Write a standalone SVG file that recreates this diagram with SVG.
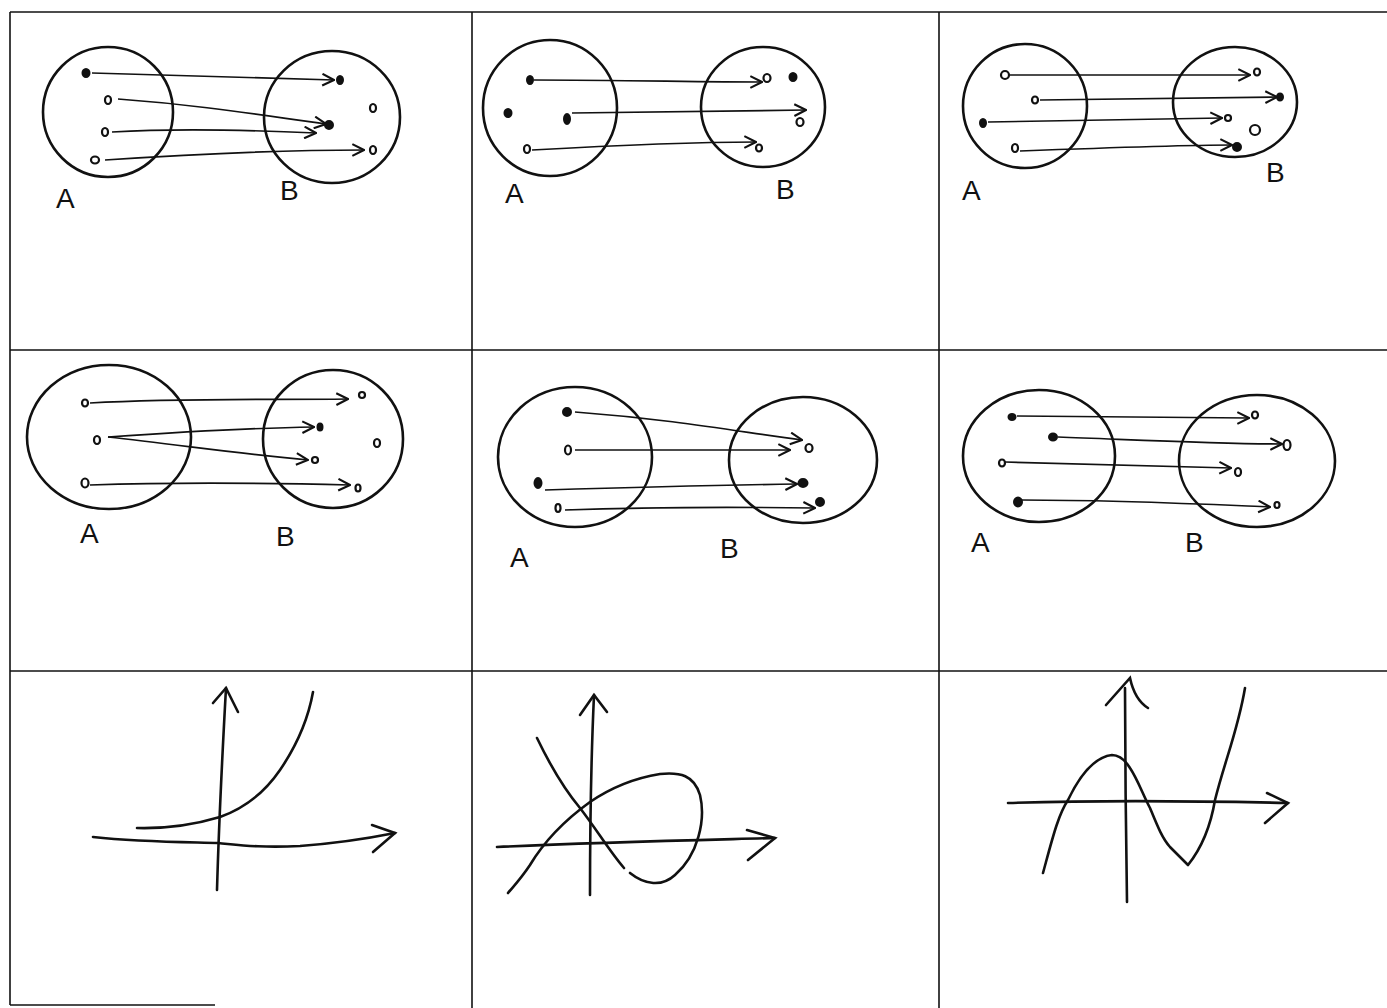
<svg xmlns="http://www.w3.org/2000/svg" width="1387" height="1008" viewBox="0 0 1387 1008">
<style>
.grid{stroke:#111;stroke-width:1.6;fill:none}
.set{fill:none;stroke:#111;stroke-width:2.6}
.dot{fill:#fff;stroke:#111;stroke-width:2.2}
.fdot{fill:#111;stroke:#111;stroke-width:2}
.map{fill:none;stroke:#111;stroke-width:1.7;marker-end:url(#open)}
.axis{fill:none;stroke:#111;stroke-width:2.6;stroke-linecap:round}
.curve{fill:none;stroke:#111;stroke-width:2.6;stroke-linecap:round;stroke-linejoin:round}
.lbl{font-family:"Liberation Sans",Arial,sans-serif;font-size:28px;fill:#111}
</style>
<defs>
<marker id="open" viewBox="0 0 12 12" refX="11" refY="6" markerWidth="14" markerHeight="14" markerUnits="userSpaceOnUse" orient="auto">
<path d="M1,1 L11,6 L1,11" fill="none" stroke="#111" stroke-width="1.8"/>
</marker>
</defs>
<rect width="1387" height="1008" fill="#fff"/>
<g id="grid" class="grid">
<line x1="10" y1="12" x2="1387" y2="12"/>
<line x1="10" y1="350" x2="1387" y2="350"/>
<line x1="10" y1="671" x2="1387" y2="671"/>
<line x1="10" y1="1005" x2="215" y2="1005"/>
<line x1="10" y1="12" x2="10" y2="1005"/>
<line x1="472" y1="12" x2="472" y2="1008"/>
<line x1="939" y1="12" x2="939" y2="1008"/>
</g>

<g id="cell1">
<g id="c1-A"><ellipse class="set" cx="108" cy="112" rx="65" ry="65"/>
<ellipse class="fdot" cx="86" cy="73" rx="3.5" ry="4"/><ellipse class="dot" cx="108" cy="100" rx="3" ry="4"/><ellipse class="dot" cx="105" cy="132" rx="3" ry="4"/><ellipse class="dot" cx="95" cy="160" rx="4" ry="3.5"/>
<text class="lbl" x="56" y="208">A</text></g>
<g id="c1-B"><ellipse class="set" cx="332" cy="117" rx="68" ry="66"/>
<ellipse class="fdot" cx="340" cy="80" rx="3" ry="4"/><ellipse class="dot" cx="373" cy="108" rx="3" ry="4"/><ellipse class="fdot" cx="329" cy="125" rx="4" ry="4"/><ellipse class="dot" cx="373" cy="150" rx="3" ry="4"/>
<text class="lbl" x="280" y="200">B</text></g>
<g id="c1-edges">
<path class="map" d="M92,73 L334,80"/>
<path class="map" d="M118,99 C200,105 260,115 326,124"/>
<path class="map" d="M112,132 C180,128 250,130 316,133"/>
<path class="map" d="M105,160 C180,155 280,150 364,150"/>
</g>
</g>

<g id="cell2">
<g id="c2-A"><ellipse class="set" cx="550" cy="108" rx="67" ry="68"/>
<ellipse class="fdot" cx="530" cy="80" rx="3" ry="4"/><ellipse class="fdot" cx="508" cy="113" rx="3.5" ry="4"/><ellipse class="fdot" cx="567" cy="119" rx="3" ry="5"/><ellipse class="dot" cx="527" cy="149" rx="3" ry="4"/>
<text class="lbl" x="505" y="203">A</text></g>
<g id="c2-B"><ellipse class="set" cx="763" cy="107" rx="62" ry="60"/>
<ellipse class="dot" cx="767" cy="78" rx="3.5" ry="4"/><ellipse class="fdot" cx="793" cy="77" rx="3.5" ry="4"/><ellipse class="dot" cx="800" cy="122" rx="3.5" ry="4"/><ellipse class="dot" cx="759" cy="148" rx="3" ry="3.5"/>
<text class="lbl" x="776" y="199">B</text></g>
<g id="c2-edges">
<path class="map" d="M534,80 C620,80 700,82 762,82"/>
<path class="map" d="M572,113 L806,110"/>
<path class="map" d="M532,150 C620,145 700,142 756,142"/>
</g>
</g>

<g id="cell3">
<g id="c3-A"><ellipse class="set" cx="1025" cy="106" rx="62" ry="62"/>
<ellipse class="dot" cx="1005" cy="75" rx="4" ry="4"/><ellipse class="dot" cx="1035" cy="100" rx="3" ry="3.5"/><ellipse class="fdot" cx="983" cy="123" rx="3" ry="4"/><ellipse class="dot" cx="1015" cy="148" rx="3" ry="4"/>
<text class="lbl" x="962" y="200">A</text></g>
<g id="c3-B"><ellipse class="set" cx="1235" cy="102" rx="62" ry="55"/>
<ellipse class="dot" cx="1257" cy="72" rx="3" ry="3.5"/><ellipse class="fdot" cx="1280" cy="97" rx="3" ry="3.5"/><ellipse class="dot" cx="1228" cy="118" rx="3" ry="3"/><ellipse class="dot" cx="1255" cy="130" rx="5" ry="5"/><ellipse class="fdot" cx="1237" cy="147" rx="4" ry="4"/>
<text class="lbl" x="1266" y="182">B</text></g>
<g id="c3-edges">
<path class="map" d="M1010,75 L1250,75"/>
<path class="map" d="M1040,100 L1277,97"/>
<path class="map" d="M988,122 L1222,118"/>
<path class="map" d="M1020,151 C1100,148 1180,145 1232,145"/>
</g>
</g>

<g id="cell4">
<g id="c4-A"><ellipse class="set" cx="109" cy="437" rx="82" ry="72"/>
<ellipse class="dot" cx="85" cy="403" rx="3" ry="3.5"/><ellipse class="dot" cx="97" cy="440" rx="3" ry="4"/><ellipse class="dot" cx="85" cy="483" rx="3.5" ry="4.5"/>
<text class="lbl" x="80" y="543">A</text></g>
<g id="c4-B"><ellipse class="set" cx="333" cy="439" rx="70" ry="69"/>
<ellipse class="dot" cx="362" cy="395" rx="3" ry="3"/><ellipse class="fdot" cx="320" cy="427" rx="2.5" ry="3.5"/><ellipse class="dot" cx="377" cy="443" rx="3" ry="4"/><ellipse class="dot" cx="315" cy="460" rx="3" ry="3"/><ellipse class="dot" cx="358" cy="488" rx="2.5" ry="3.5"/>
<text class="lbl" x="276" y="546">B</text></g>
<g id="c4-edges">
<path class="map" d="M90,403 C180,398 270,400 348,399"/>
<path class="map" d="M108,437 C180,432 250,428 314,427"/>
<path class="map" d="M108,437 C180,445 250,455 308,460"/>
<path class="map" d="M90,485 C180,482 270,483 350,485"/>
</g>
</g>

<g id="cell5">
<g id="c5-A"><ellipse class="set" cx="575" cy="457" rx="77" ry="70"/>
<ellipse class="fdot" cx="567" cy="412" rx="4" ry="4"/><ellipse class="dot" cx="568" cy="450" rx="3" ry="4.5"/><ellipse class="fdot" cx="538" cy="483" rx="3.5" ry="5"/><ellipse class="dot" cx="558" cy="508" rx="2.5" ry="4"/>
<text class="lbl" x="510" y="567">A</text></g>
<g id="c5-B"><ellipse class="set" cx="803" cy="460" rx="74" ry="63"/>
<ellipse class="dot" cx="809" cy="448" rx="3.5" ry="4"/><ellipse class="fdot" cx="803" cy="483" rx="4.5" ry="4"/><ellipse class="fdot" cx="820" cy="502" rx="4" ry="4"/>
<text class="lbl" x="720" y="558">B</text></g>
<g id="c5-edges">
<path class="map" d="M575,412 C680,420 740,432 802,440"/>
<path class="map" d="M575,450 L790,450"/>
<path class="map" d="M545,490 C640,487 720,485 797,484"/>
<path class="map" d="M565,510 C650,507 740,507 815,508"/>
</g>
</g>

<g id="cell6">
<g id="c6-A"><ellipse class="set" cx="1039" cy="456" rx="76" ry="66"/>
<ellipse class="fdot" cx="1012" cy="417" rx="3.5" ry="3"/><ellipse class="fdot" cx="1053" cy="437" rx="4" ry="3.5"/><ellipse class="dot" cx="1002" cy="463" rx="3" ry="3.5"/><ellipse class="fdot" cx="1018" cy="502" rx="4" ry="4.5"/>
<text class="lbl" x="971" y="552">A</text></g>
<g id="c6-B"><ellipse class="set" cx="1257" cy="461" rx="78" ry="66"/>
<ellipse class="dot" cx="1255" cy="415" rx="3" ry="3.5"/><ellipse class="dot" cx="1287" cy="445" rx="3.5" ry="5"/><ellipse class="dot" cx="1238" cy="472" rx="3" ry="4"/><ellipse class="dot" cx="1277" cy="505" rx="2.5" ry="3"/>
<text class="lbl" x="1185" y="552">B</text></g>
<g id="c6-edges">
<path class="map" d="M1017,416 C1100,416 1180,418 1249,418"/>
<path class="map" d="M1058,437 C1140,440 1220,444 1282,444"/>
<path class="map" d="M1005,462 C1100,464 1180,467 1231,468"/>
<path class="map" d="M1022,500 C1120,500 1200,504 1270,507"/>
</g>
</g>

<g id="cell7">
<path class="axis" d="M217,890 C219,820 222,760 226,688"/>
<path class="axis" d="M213,703 L226,688 L238,712"/>
<path class="axis" d="M93,837 C140,842 180,842 218,843 C240,845 260,848 300,846 C340,843 370,838 395,833"/>
<path class="axis" d="M372,825 L395,833 L373,852"/>
<path class="curve" d="M137,828 C175,829 200,823 220,817 C245,808 265,792 280,770 C295,748 308,720 313,692"/>
</g>

<g id="cell8">
<path class="axis" d="M590,895 C590,820 591,760 594,695"/>
<path class="axis" d="M580,715 L594,695 L607,712"/>
<path class="axis" d="M497,847 C600,842 700,840 775,838"/>
<path class="axis" d="M747,830 L775,838 L748,860"/>
<path class="curve" d="M537,738 C550,765 565,790 580,808 C597,830 610,852 624,868"/>
<path class="curve" d="M630,873 C645,885 662,887 675,875 C698,855 706,820 700,795 C694,775 680,772 660,774 C635,778 612,787 590,802 C565,820 545,840 530,865 C520,880 512,888 508,893"/>
</g>

<g id="cell9">
<path class="axis" d="M1127,902 C1126,830 1125,760 1125,688"/>
<path class="axis" d="M1106,705 L1130,678 C1133,692 1140,703 1148,708" stroke-width="2"/>
<path class="axis" d="M1008,803 C1100,800 1200,801 1288,803"/>
<path class="axis" d="M1267,793 L1288,803 L1265,823"/>
<path class="curve" d="M1043,873 C1052,840 1058,815 1068,800 C1080,775 1095,757 1112,755 C1120,755 1125,760 1130,768 C1138,780 1143,795 1150,808 C1157,825 1162,838 1170,847 C1178,855 1183,860 1188,865 C1200,850 1210,830 1215,800 C1225,760 1238,730 1245,688"/>
</g>
</svg>
